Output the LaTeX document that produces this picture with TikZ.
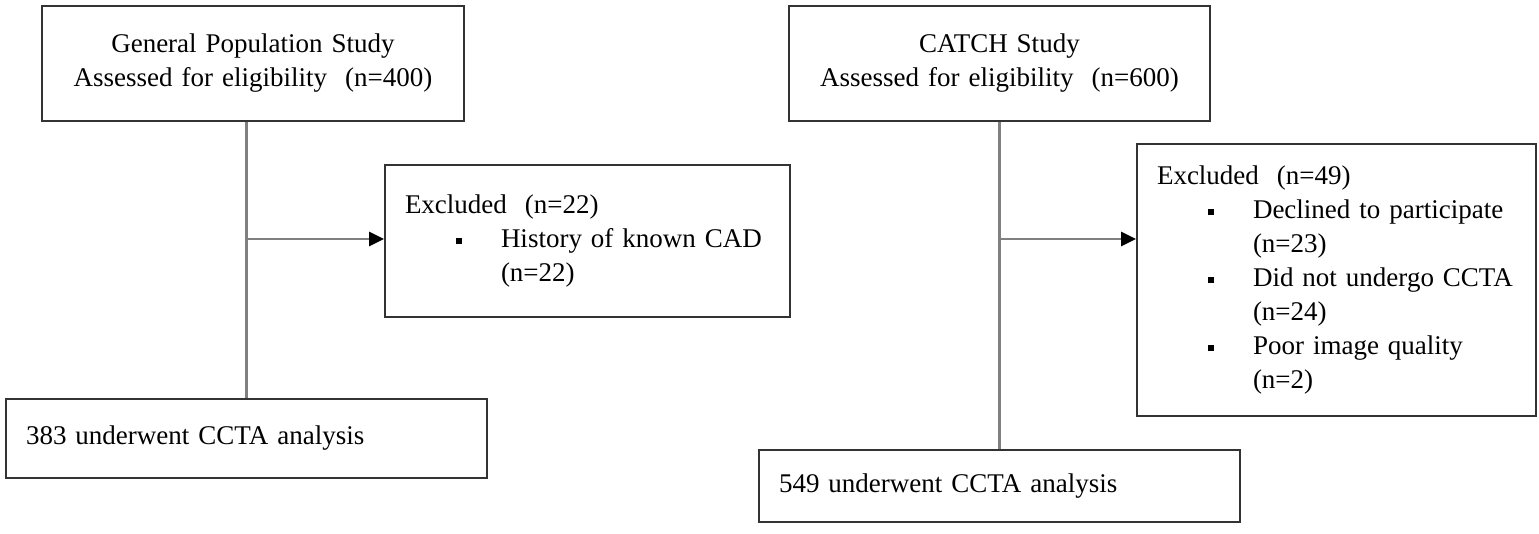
\documentclass[tikz,border=0pt]{standalone}
\usepackage{fontspec}
\setmainfont{Liberation Serif}
\usetikzlibrary{arrows.meta}
\newcommand{\sqbullet}{\rule[1.6pt]{3pt}{3pt}}
\newcommand{\listitem}[1]{\makebox[48pt][l]{\hspace*{25.5pt}\sqbullet}#1}
\newcommand{\listcont}[1]{\hspace*{48pt}#1}

\begin{document}
\begin{tikzpicture}[x=0.5pt, y=-0.5pt,
  box/.style={draw=black!80, line width=0.9pt, inner xsep=10pt, inner ysep=0pt, font=\fontsize{13.5}{17}\selectfont},
  link/.style={draw=black!50, line width=1.2pt},
  arrowlink/.style={link, -{Triangle[length=7.5pt,width=7pt,color=black]}}]
\useasboundingbox (0,0) rectangle (1539,534);

% general population study
\node[box, text width=191pt, align=center, minimum height=57.5pt] (gps) at (253,63.5) {General Population Study\\Assessed for eligibility\ \ (n=400)};
\node[box, text width=182.5pt, align=left, minimum height=76pt] (gpsex) at (587.5,241) {Excluded\ \ (n=22)\\\listitem{History of known CAD}\\\listcont{(n=22)}};
\node[box, text width=220.5pt, align=left, minimum height=39.5pt] (gpsccta) at (246.5,438.5) {383 underwent CCTA analysis};
\coordinate (gpsj) at (246,239);
\draw[link] (gps.south -| gpsccta.north) -- (gpsccta.north);
\draw[arrowlink] (gpsj) -- (gpsex.west |- gpsj);

% catch study
\node[box, text width=190.5pt, align=center, minimum height=57.5pt] (catch) at (999.5,63.5) {CATCH Study\\Assessed for eligibility\ \ (n=600)};
\node[box, text width=179.5pt, align=left, minimum height=136pt] (catchex) at (1336.5,280) {Excluded\ \ (n=49)\\\listitem{Declined to participate}\\\listcont{(n=23)}\\\listitem{Did not undergo CCTA}\\\listcont{(n=24)}\\\listitem{Poor image quality}\\\listcont{(n=2)}};
\node[box, text width=220.5pt, align=left, minimum height=36pt] (catchccta) at (999.5,486) {549 underwent CCTA analysis};
\coordinate (catchj) at (999,239);
\draw[link] (catch.south -| catchccta.north) -- (catchccta.north);
\draw[arrowlink] (catchj) -- (catchex.west |- catchj);
\end{tikzpicture}
\end{document}
